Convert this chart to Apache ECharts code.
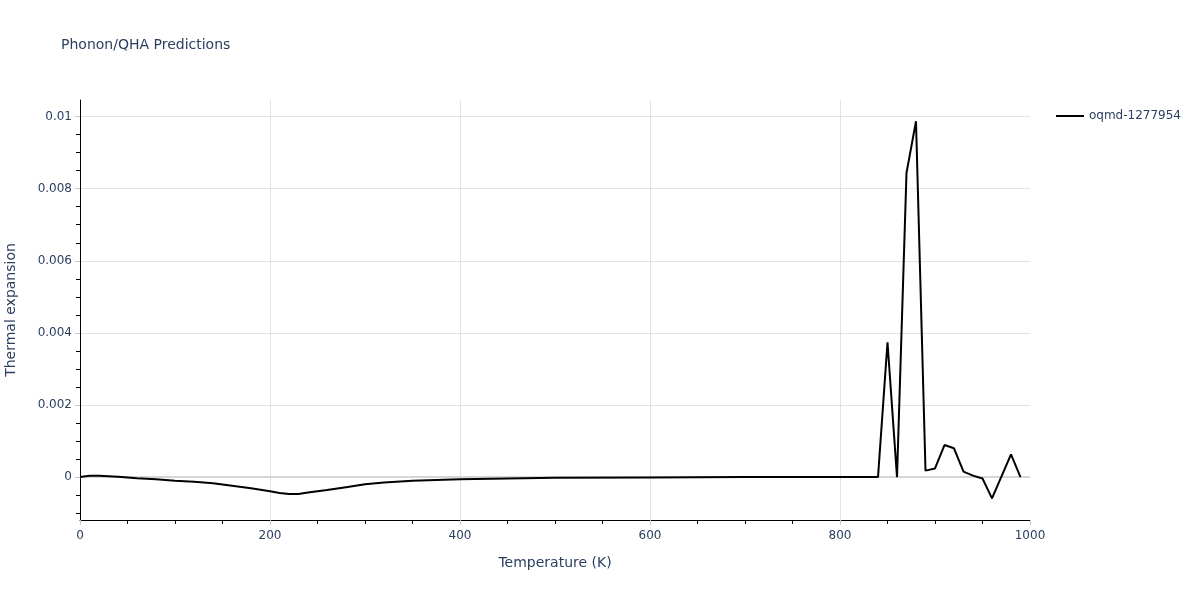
<!DOCTYPE html>
<html><head><meta charset="utf-8">
<script src="https://cdn.jsdelivr.net/npm/echarts@6/dist/echarts.min.js"></script>
<style>html,body{margin:0;padding:0;background:#fff}#c{width:1200px;height:600px}</style>
</head><body><div id="c"></div>
<script>
const temperature = [0,10,20,40,60,80,100,120,140,160,180,200,210,220,230,240,260,280,300,320,350,400,450,500,600,700,800,840,850,860,870,880,890,900,910,920,930,940,950,960,970,980,990];
const thermalExpansion = [0,0.00004,0.00004,0.00001,-0.00003,-0.00006,-0.0001,-0.00013,-0.00017,-0.00024,-0.00031,-0.00039,-0.00044,-0.00047,-0.00047,-0.00043,-0.00036,-0.00028,-0.0002,-0.00015,-0.0001,-0.00006,-0.00004,-0.00002,-0.00001,0,0,0,0.00374,0,0.00844,0.00987,0.00018,0.00024,0.00089,0.0008,0.00015,0.00004,-0.00004,-0.00059,0.00002,0.00063,0];
const yTickValues = [0,0.002,0.004,0.006,0.008,0.01];
const yMinorTickValues = [-0.001,-0.0005,0.0005,0.001,0.0015,0.0025,0.003,0.0035,0.0045,0.005,0.0055,0.0065,0.007,0.0075,0.0085,0.009,0.0095];
const xGridValues = [200,400,600,800];
const seriesName = 'oqmd-1277954';

const FONT = 'DejaVu Sans';
const TXT = '#2a3f5f';
const GRID = '#e2e2e2';
const chart = echarts.init(document.getElementById('c'));
const yMin = -0.00119, yMax = 0.01046;
chart.setOption({
  animation: false,
  textStyle: {fontFamily: FONT},
  title: {text: 'Phonon/QHA Predictions', left: 56, top: 33, textStyle: {fontFamily: FONT, fontSize: 14, fontWeight: 'normal', color: TXT}},
  legend: {right: 14, top: 105, orient: 'vertical', itemWidth: 28, itemHeight: 2, icon: 'rect', itemGap: 8,
    textStyle: {fontFamily: FONT, fontSize: 12, color: TXT}, data: [{name: seriesName}]},
  grid: {left: 80, right: 170, top: 100, bottom: 80, containLabel: false, outerBoundsMode: 'none'},
  xAxis: [
    {type: 'value', min: 0, max: 1000, interval: 200,
     name: 'Temperature (K)', nameLocation: 'middle', nameGap: 36, nameTextStyle: {fontFamily: FONT, fontSize: 14, color: TXT},
     axisLine: {show: true, onZero: false, lineStyle: {color: '#000', width: 1}},
     axisTick: {show: true, length: 5, lineStyle: {color: '#c8c8c8'}},
     minorTick: {show: true, splitNumber: 4, length: 4, lineStyle: {color: '#000'}},
     axisLabel: {fontFamily: FONT, fontSize: 12, color: TXT, margin: 10, formatter: v => String(v)},
     splitLine: {show: false}},
    {type: 'value', min: 0, max: 1000, position: 'bottom', show: true,
     axisLine: {show: false}, axisLabel: {show: false},
     axisTick: {show: false, customValues: xGridValues},
     splitLine: {show: true, lineStyle: {color: GRID, width: 1}}}
  ],
  yAxis: [
    {type: 'value', min: yMin, max: yMax,
     name: 'Thermal expansion', nameLocation: 'middle', nameGap: 62, nameTextStyle: {fontFamily: FONT, fontSize: 14, color: TXT},
     axisLine: {show: true, onZero: false, lineStyle: {color: '#000', width: 1}},
     axisTick: {show: true, length: 5, customValues: yTickValues, lineStyle: {color: '#c8c8c8'}},
     axisLabel: {fontFamily: FONT, fontSize: 12, color: TXT, margin: 8, customValues: yTickValues,
       formatter: v => String(+v.toFixed(4))},
     splitLine: {show: true, lineStyle: {color: GRID, width: 1}}},
    {type: 'value', min: yMin, max: yMax, position: 'left',
     axisLine: {show: false}, axisLabel: {show: false, customValues: yMinorTickValues},
     axisTick: {show: true, length: 4, customValues: yMinorTickValues, lineStyle: {color: '#000'}},
     splitLine: {show: false}}
  ],
  series: [{
    name: seriesName, type: 'line', xAxisIndex: 0, yAxisIndex: 0,
    data: temperature.map((t, i) => [t, thermalExpansion[i]]),
    showSymbol: false, smooth: false,
    lineStyle: {color: '#000', width: 2}, itemStyle: {color: '#000'},
    markLine: {silent: true, symbol: 'none', label: {show: false}, data: [{yAxis: 0}],
      lineStyle: {color: '#d6d6d6', width: 2, type: 'solid'}, z: 1}
  }]
});
</script></body></html>
